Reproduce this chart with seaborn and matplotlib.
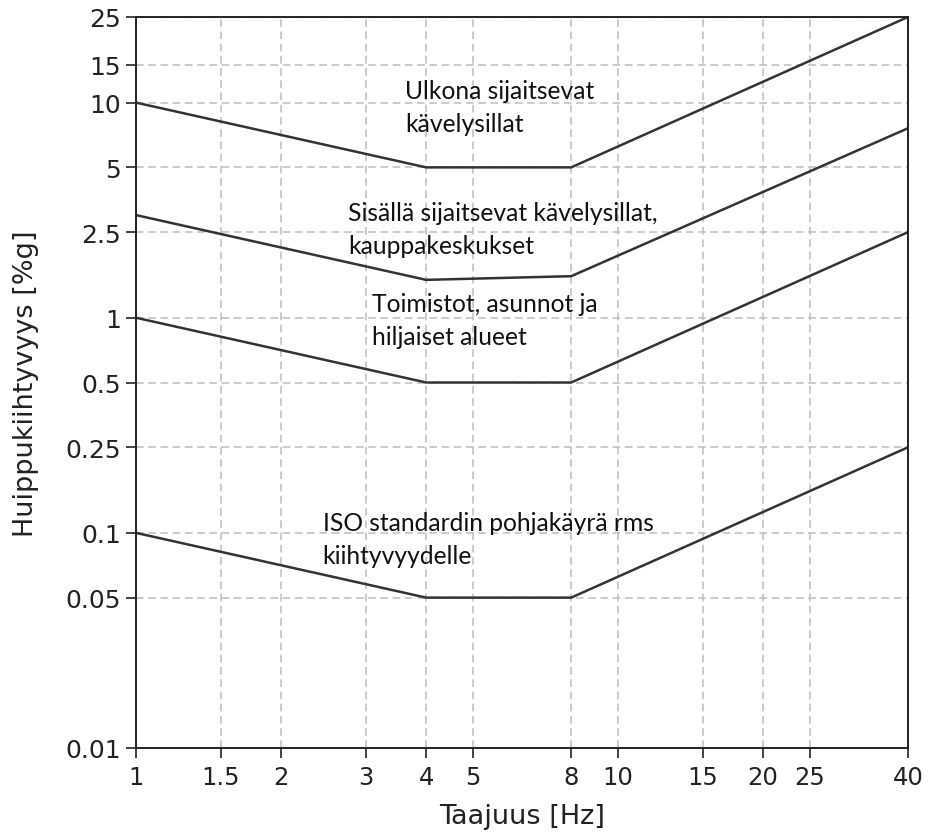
import numpy as np
import pandas as pd
import matplotlib
matplotlib.use("Agg")
import matplotlib.pyplot as plt
import seaborn as sns
from matplotlib.ticker import FixedLocator, FixedFormatter, NullLocator

# Data
freq = [1, 4, 8, 40]
iso_base = [0.1, 0.05, 0.05, 0.25]
offices = [1.0, 0.5, 0.5, 2.5]
indoor = [3.0, 1.5, 1.56, 7.6]
outdoor = [10.0, 5.0, 5.0, 25.0]

x_ticks = [1, 1.5, 2, 3, 4, 5, 8, 10, 15, 20, 25, 40]
x_tick_labels = ["1", "1.5", "2", "3", "4", "5", "8", "10", "15", "20", "25", "40"]
y_ticks = [0.01, 0.05, 0.1, 0.25, 0.5, 1, 2.5, 5, 10, 15, 25]
y_tick_labels = ["0.01", "0.05", "0.1", "0.25", "0.5", "1", "2.5", "5", "10", "15", "25"]

labels = [
    ["Ulkona sijaitsevat", "kävelysillat"],
    ["Sisällä sijaitsevat kävelysillat,", "kauppakeskukset"],
    ["Toimistot, asunnot ja", "hiljaiset alueet"],
    ["ISO standardin pohjakäyrä rms", "kiihtyvyydelle"],
]
# label anchor positions in axes fraction (left, first baseline)
label_pos = [(0.3484, 0.889), (0.2746, 0.722), (0.3057, 0.598), (0.2418, 0.2986)]
line_step = 0.0449

series = {"outdoor": outdoor, "indoor": indoor, "offices": offices, "iso": iso_base}
df = pd.concat(
    [pd.DataFrame({"f": freq, "a": v, "s": k}) for k, v in series.items()],
    ignore_index=True,
)

sns.set_style("white")
plt.rcParams["font.family"] = ["DejaVu Sans"]

fig = plt.figure(figsize=(9.31, 8.37), dpi=100)
ax = fig.add_axes([136 / 931, 1 - 749 / 837, (908 - 136) / 931, (749 - 18) / 837])

sns.lineplot(
    data=df, x="f", y="a", units="s", estimator=None, color="#333333",
    linewidth=1.8, ax=ax, legend=False, sort=False,
)
ax.set_xscale("log")
ax.set_yscale("log")
ax.set_xlim(1, 40)
ax.set_ylim(0.01, 25)

ax.xaxis.set_major_locator(FixedLocator(x_ticks))
ax.xaxis.set_major_formatter(FixedFormatter(x_tick_labels))
ax.xaxis.set_minor_locator(NullLocator())
ax.yaxis.set_major_locator(FixedLocator(y_ticks))
ax.yaxis.set_major_formatter(FixedFormatter(y_tick_labels))
ax.yaxis.set_minor_locator(NullLocator())

ax.grid(True, which="major", linestyle=(0, (5, 3)), color="#bdbdbd", linewidth=1.1)
ax.tick_params(axis="both", which="major", direction="out", length=7, width=1.2,
               color="#222222", labelcolor="#222222", bottom=True, left=True)
ax.tick_params(axis="y", labelsize=18, pad=4)
ax.tick_params(axis="x", labelsize=17.5, pad=5)
for sp in ax.spines.values():
    sp.set_color("#222222")
    sp.set_linewidth(1.4)

ax.set_xlabel("Taajuus [Hz]", fontsize=19.5, color="#222222", labelpad=10)
ax.set_ylabel("Huippukiihtyvyys [%g]", fontsize=19.5, color="#222222", labelpad=19)

for lines, (x, y) in zip(labels, label_pos):
    for i, txt in enumerate(lines):
        ax.text(x, y - i * line_step, txt, transform=ax.transAxes, ha="left",
                va="baseline", fontsize=17.7, family=["Lato", "DejaVu Sans"],
                color="#111111")

fig.savefig("out.png", dpi=100)
